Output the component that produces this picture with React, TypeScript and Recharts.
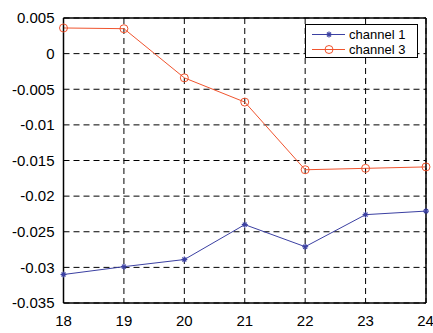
import { CartesianGrid, Line, LineChart, XAxis, YAxis } from "recharts";

const sessions = [18, 19, 20, 21, 22, 23, 24];
const channel1 = [-0.031, -0.0299, -0.0289, -0.024, -0.0271, -0.0226, -0.0221];
const channel3 = [0.0036, 0.0035, -0.0034, -0.0068, -0.0163, -0.0161, -0.0159];
const yTicks = [-0.035, -0.03, -0.025, -0.02, -0.015, -0.01, -0.005, 0, 0.005];
const seriesNames = ["channel 1", "channel 3"];

const BLUE = "#3b40a2";
const RED = "#f0542e";
const FONT = "'Liberation Sans', Arial, sans-serif";

const data = sessions.map((s, i) => ({ x: s, ch1: channel1[i], ch3: channel3[i] }));

function StarDot(props: { cx?: number; cy?: number }) {
  const { cx, cy } = props;
  if (cx == null || cy == null) return null;
  return (
    <g stroke={BLUE} strokeWidth={1.2}>
      <line x1={cx - 3} y1={cy} x2={cx + 3} y2={cy} />
      <line x1={cx} y1={cy - 3} x2={cx} y2={cy + 3} />
      <line x1={cx - 2} y1={cy - 2} x2={cx + 2} y2={cy + 2} />
      <line x1={cx - 2} y1={cy + 2} x2={cx + 2} y2={cy - 2} />
    </g>
  );
}

function CircleDot(props: { cx?: number; cy?: number }) {
  const { cx, cy } = props;
  if (cx == null || cy == null) return null;
  return <circle cx={cx} cy={cy} r={4} fill="none" stroke={RED} strokeWidth={1} />;
}

// legend sits inside the plot, top right, like the matlab one
function LegendBox() {
  const colors = [BLUE, RED];
  return (
    <div
      style={{
        position: "absolute",
        left: 305,
        top: 24,
        width: 111,
        border: "1.5px solid #000",
        background: "#fff",
        padding: "1.5px 0 0 0",
        fontFamily: FONT,
        fontSize: 13,
        lineHeight: "15px",
      }}
    >
      {seriesNames.map((name, i) => (
        <div key={name} style={{ display: "flex", alignItems: "center", height: 15 }}>
          <svg width={40} height={15}>
            <line x1={6} y1={7.5} x2={39} y2={7.5} stroke={colors[i]} strokeWidth={1} />
            {i === 0 ? <StarDot cx={23} cy={7.5} /> : <CircleDot cx={23} cy={7.5} />}
          </svg>
          <span style={{ marginLeft: 3 }}>{name}</span>
        </div>
      ))}
    </div>
  );
}

export default function App() {
  return (
    <div style={{ position: "fixed", left: 0, top: 0, width: 433, height: 333, background: "#fff" }}>
      <LineChart
        width={433}
        height={333}
        data={data}
        margin={{ top: 17, right: 6, bottom: 0, left: 0 }}
      >
        <CartesianGrid stroke="#000" strokeDasharray="6 4" strokeWidth={1} />
        <XAxis
          dataKey="x"
          type="number"
          domain={[18, 24]}
          ticks={sessions}
          height={30}
          axisLine={{ stroke: "#000", strokeWidth: 1.5 }}
          tickLine={false}
          tickSize={0}
          tickMargin={12}
          tick={{ fill: "#000", fontSize: 15, fontFamily: FONT }}
        />
        <XAxis
          xAxisId="top"
          dataKey="x"
          type="number"
          domain={[18, 24]}
          orientation="top"
          height={1}
          tick={false}
          tickLine={false}
          axisLine={{ stroke: "#000", strokeWidth: 1.5 }}
        />
        <YAxis
          type="number"
          domain={[-0.035, 0.005]}
          ticks={yTicks}
          width={63.5}
          interval={0}
          axisLine={{ stroke: "#000", strokeWidth: 1.5 }}
          tickLine={false}
          tickSize={0}
          tickMargin={9}
          tickFormatter={(v) => String(v)}
          tick={{ fill: "#000", fontSize: 15, fontFamily: FONT }}
        />
        <YAxis
          yAxisId="right"
          orientation="right"
          type="number"
          domain={[-0.035, 0.005]}
          width={1}
          tick={false}
          tickLine={false}
          axisLine={{ stroke: "#000", strokeWidth: 1.5 }}
        />
        <Line
          dataKey="ch1"
          stroke={BLUE}
          strokeWidth={1}
          dot={<StarDot />}
          activeDot={false}
          isAnimationActive={false}
        />
        <Line
          dataKey="ch3"
          stroke={RED}
          strokeWidth={1}
          dot={<CircleDot />}
          activeDot={false}
          isAnimationActive={false}
        />
      </LineChart>
      <LegendBox />
    </div>
  );
}
